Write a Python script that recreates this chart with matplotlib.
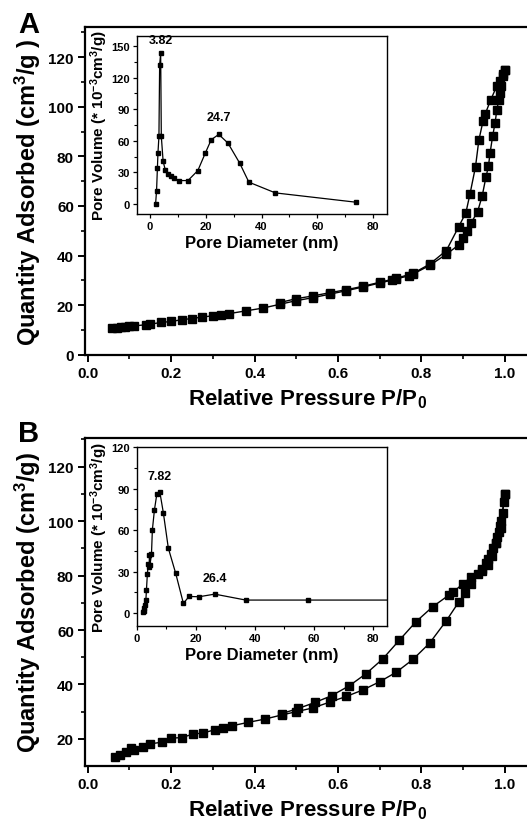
import matplotlib
matplotlib.use('Agg')
import matplotlib.pyplot as plt
from matplotlib.ticker import MultipleLocator

plt.rcParams['font.family'] = ['Liberation Sans', 'DejaVu Sans']
plt.rcParams['font.weight'] = 'bold'
plt.rcParams['mathtext.fontset'] = 'custom'
plt.rcParams['mathtext.rm'] = 'Liberation Sans:bold'
plt.rcParams['mathtext.bf'] = 'Liberation Sans:bold'
plt.rcParams['mathtext.default'] = 'rm'

# panel A isotherm
a_ads_p = [0.058, 0.07, 0.08, 0.09, 0.1, 0.11, 0.14, 0.15, 0.175, 0.2, 0.225, 0.25, 0.275, 0.3,
           0.32, 0.34, 0.38, 0.42, 0.46, 0.5, 0.54, 0.58, 0.62, 0.66, 0.7, 0.73, 0.74, 0.77, 0.78,
           0.82, 0.86, 0.89, 0.9, 0.91, 0.92, 0.935, 0.946, 0.955, 0.961, 0.965, 0.971, 0.977,
           0.981, 0.986, 0.988, 0.992, 0.997, 1.0]
a_ads_q = [10.6, 10.8, 11.0, 11.2, 11.4, 11.6, 12.1, 12.3, 13.0, 13.4, 14.1, 14.6, 15.2, 15.7,
           16.1, 16.6, 17.7, 18.8, 20.3, 21.8, 23.0, 24.4, 25.8, 27.3, 28.9, 30.1, 30.6, 31.8, 32.5,
           36.0, 40.5, 44.3, 47.2, 49.9, 53.3, 57.7, 64.0, 71.6, 76.0, 81.4, 88.1, 93.5,
           98.6, 102.9, 105.6, 108.3, 112.3, 115.0]
a_des_p = [1.0, 0.995, 0.988, 0.981, 0.966, 0.953, 0.948, 0.938, 0.93, 0.917, 0.907, 0.89,
           0.86, 0.82, 0.78, 0.74, 0.7, 0.66, 0.62, 0.58, 0.54, 0.5, 0.46]
a_des_q = [115.0, 113.0, 110.5, 108.3, 102.6, 96.9, 94.2, 86.5, 75.8, 65.0, 57.3, 51.7,
           42.0, 36.5, 32.8, 30.8, 29.2, 27.6, 26.2, 25.0, 23.7, 22.6, 21.0]

# panel A pore size distribution
a_pd = [2.0, 2.35, 2.65, 2.85, 3.2, 3.45, 3.82, 4.05, 4.7, 5.45, 6.45, 7.35, 8.55, 10.45, 13.6,
        17.15, 19.85, 21.95, 24.65, 27.95, 32.15, 35.45, 44.95, 74.05]
a_pv = [0, 12.7, 34, 48.4, 64.3, 132, 143, 64.3, 40.5, 32.6, 28.5, 26.3, 24.4, 22.2, 22.2,
        31.7, 48.4, 61, 66, 57.8, 38.8, 20.7, 10.5, 1.6]

# panel B isotherm
b_ads_p = [0.065, 0.077, 0.092, 0.105, 0.11, 0.133, 0.15, 0.177, 0.2, 0.225, 0.253, 0.277, 0.305,
           0.325, 0.345, 0.385, 0.425, 0.465, 0.5, 0.54, 0.58, 0.62, 0.66, 0.7, 0.74, 0.78, 0.82,
           0.86, 0.89, 0.905, 0.92, 0.935, 0.945, 0.955, 0.961, 0.968, 0.973, 0.978, 0.982, 0.986,
           0.989, 0.992, 0.995, 0.998, 1.0]
b_ads_q = [13.3, 14.1, 15.1, 16.6, 16.0, 17.0, 18.2, 18.8, 20.3, 20.5, 21.8, 22.2, 23.4,
           24.2, 24.8, 26.1, 27.3, 28.8, 30.0, 31.4, 33.5, 35.6, 38.0, 41.0, 44.5, 49.2, 55.2,
           63.4, 70.3, 73.5, 77.0, 80.5, 82.5, 84.5, 86.0, 88.0, 90.0, 92.0, 94.0, 96.0,
           98.0, 100.0, 103.0, 107.0, 110.0]
b_des_p = [1.0, 0.99, 0.98, 0.97, 0.96, 0.945, 0.92, 0.9, 0.877, 0.866, 0.827, 0.787, 0.747,
           0.707, 0.667, 0.627, 0.585, 0.545, 0.505, 0.465]
b_des_q = [110.0, 97.5, 92.0, 87.0, 84.0, 81.5, 79.5, 77.0, 74.0, 72.8, 68.5, 63.0, 56.2,
           49.3, 43.9, 39.5, 35.9, 33.4, 31.2, 29.3]

# panel B pore size distribution
b_pd = [2.0, 2.3, 2.6, 2.85, 3.1, 3.3, 3.6, 3.9, 4.2, 4.3, 4.5, 5.0, 5.3, 6.0, 6.8, 7.82, 9.0,
        10.7, 13.2, 15.8, 17.7, 21.1, 26.4, 36.9, 58.0, 95.0]
b_pv = [0.5, 1.7, 4, 6, 9.4, 16.8, 28, 35.4, 33, 41.9, 35, 42.6, 60.2, 74.7, 86, 87.7, 72.8,
        47, 28.7, 7, 12, 11.8, 13.7, 9.4, 9.4, 9.4]

xlab = 'Relative Pressure P/P$_{0}$'
ylab_a = 'Quantity Adsorbed (cm$^{3}$/g )'
ylab_b = 'Quantity Adsorbed (cm$^{3}$/g)'
inset_ylab = 'Pore Volume (* 10$^{-3}$cm$^{3}$/g)'

fig = plt.figure(figsize=(5.27, 8.29), dpi=100)


def style_main(ax, ylim, ymaj, ylab):
    ax.set_xlim(-0.0065, 1.0607)
    ax.set_ylim(*ylim)
    ax.xaxis.set_major_locator(MultipleLocator(0.2))
    ax.xaxis.set_minor_locator(MultipleLocator(0.1))
    ax.yaxis.set_minor_locator(MultipleLocator(10))
    ax.set_yticks(ymaj)
    ax.xaxis.set_major_formatter(plt.FormatStrFormatter('%.1f'))
    for s in ax.spines.values():
        s.set_linewidth(1.6)
    ax.tick_params(which='major', direction='out', length=5, width=1.4, labelsize=11, pad=3)
    ax.tick_params(which='minor', direction='out', length=3, width=1.2)
    ax.tick_params(top=False, right=False)
    ax.set_xlabel(xlab, fontsize=16, fontweight='bold', labelpad=5)
    ax.set_ylabel(ylab, fontsize=17, fontweight='bold', labelpad=4)


def style_inset(ax, xlim, ylim):
    ax.set_xlim(*xlim)
    ax.set_ylim(*ylim)
    ax.xaxis.set_major_locator(MultipleLocator(20))
    ax.xaxis.set_minor_locator(MultipleLocator(10))
    ax.yaxis.set_major_locator(MultipleLocator(30))
    ax.yaxis.set_minor_locator(MultipleLocator(15))
    for s in ax.spines.values():
        s.set_linewidth(1.0)
    ax.tick_params(which='major', direction='out', length=3, width=0.9, labelsize=8, pad=2)
    ax.tick_params(which='minor', direction='out', length=2, width=0.8)
    ax.tick_params(top=False, right=False)
    ax.set_xlabel('Pore Diameter (nm)', fontsize=12, fontweight='bold', labelpad=3)
    ax.set_ylabel(inset_ylab, fontsize=11, fontweight='bold', labelpad=1)


# ---- panel A ----
axA = fig.add_axes([0.1613, 0.5709, 0.8444, 0.3949])
axA.plot(a_ads_p, a_ads_q, '-s', color='black', lw=1.0, ms=5.4)
axA.plot(a_des_p, a_des_q, '-s', color='black', lw=1.0, ms=5.4)
style_main(axA, (0, 132), [0, 20, 40, 60, 80, 100, 120], ylab_a)
fig.text(0.055, 0.970, 'A', fontsize=21, fontweight='bold', ha='center', va='center')

inA = fig.add_axes([0.26, 0.7407, 0.4744, 0.2151])
inA.plot(a_pd, a_pv, '-s', color='black', lw=0.9, ms=2.2)
style_inset(inA, (-4.66, 85.0), (-9.5, 159.8))
inA.annotate('3.82', (3.82, 143), xytext=(0, 5), textcoords='offset points',
             ha='center', va='bottom', fontsize=9, fontweight='bold')
inA.annotate('24.7', (24.65, 66), xytext=(0, 8), textcoords='offset points',
             ha='center', va='bottom', fontsize=9, fontweight='bold')

# ---- panel B ----
axB = fig.add_axes([0.1613, 0.0752, 0.8444, 0.3953])
axB.plot(b_ads_p, b_ads_q, '-s', color='black', lw=1.0, ms=5.4)
axB.plot(b_des_p, b_des_q, '-s', color='black', lw=1.0, ms=5.4)
style_main(axB, (10.2, 130.5), [20, 40, 60, 80, 100, 120], ylab_b)
fig.text(0.055, 0.476, 'B', fontsize=21, fontweight='bold', ha='center', va='center')

inB = fig.add_axes([0.2594, 0.2433, 0.4750, 0.2159])
inB.plot(b_pd, b_pv, '-s', color='black', lw=0.9, ms=2.2)
style_inset(inB, (0, 84.7), (-9.6, 120))
inB.annotate('7.82', (7.82, 87.7), xytext=(0, 7), textcoords='offset points',
             ha='center', va='bottom', fontsize=9, fontweight='bold')
inB.annotate('26.4', (26.4, 13.7), xytext=(0, 7), textcoords='offset points',
             ha='center', va='bottom', fontsize=9, fontweight='bold')

fig.savefig('out.png', dpi=100)
